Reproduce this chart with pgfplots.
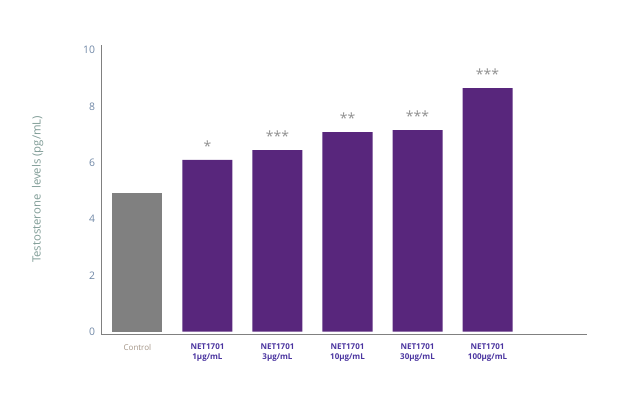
\documentclass[border=0pt]{standalone}
\usepackage{pgfplots}
\pgfplotsset{compat=1.18}
\usepackage{fontspec}
\setmainfont{Open Sans}
\definecolor{barpurple}{HTML}{58267C}
\definecolor{bargrey}{HTML}{808080}
\definecolor{ticktxt}{HTML}{6F87A6}
\definecolor{ylab}{HTML}{7D9A94}
\definecolor{ctrltxt}{HTML}{A39486}
\definecolor{nettxt}{HTML}{4B35A0}
\definecolor{startxt}{HTML}{909090}
\begin{document}
\begin{tikzpicture}
\path (0pt,0pt) rectangle (471.75pt,298.5pt);
\begin{axis}[
  at={(75.75pt,48pt)}, anchor=south west,
  scale only axis,
  width=364.5pt, height=216.75pt,
  xmin=-0.52, xmax=6.42,
  ymin=-0.08, ymax=10.18,
  axis lines*=left,
  axis line style={draw=bargrey, line width=0.6pt},
  ytick={0,2,4,6,8,10},
  xtick={0,1,2,3,4,5},
  xticklabels={
    {\textcolor{ctrltxt}{Control}},
    {\textbf{\textcolor{nettxt}{NET1701}}\\\textbf{\textcolor{nettxt}{1µg/mL}}},
    {\textbf{\textcolor{nettxt}{NET1701}}\\\textbf{\textcolor{nettxt}{3µg/mL}}},
    {\textbf{\textcolor{nettxt}{NET1701}}\\\textbf{\textcolor{nettxt}{10µg/mL}}},
    {\textbf{\textcolor{nettxt}{NET1701}}\\\textbf{\textcolor{nettxt}{30µg/mL}}},
    {\textbf{\textcolor{nettxt}{NET1701}}\\\textbf{\textcolor{nettxt}{100µg/mL}}}},
  major tick length=0pt,
  xticklabel style={font=\fontsize{6}{7}\selectfont, align=center, anchor=north, yshift=-4pt},
  yticklabel style={font=\fontsize{7.8}{8}\selectfont, text=ticktxt, xshift=-1pt},
  /pgf/number format/assume math mode=true,
  ylabel={Testosterone\ \ levels (pg/mL)},
  ylabel style={font=\fontsize{8.5}{9}\selectfont, text=ylab},
  ylabel shift=23pt,
  ybar, bar width=37.5pt,
  clip=false,
  nodes near coords style={font=\fontsize{10.5}{12}\selectfont, text=startxt, anchor=south, yshift=3pt},
]
\addplot[ybar, bar shift=0pt, fill=bargrey, draw=none] coordinates {(0,4.92)};
\addplot[ybar, bar shift=0pt, fill=barpurple, draw=none,
  nodes near coords, point meta=explicit symbolic]
  coordinates {(1,6.10) [*] (2,6.45) [***] (3,7.09) [**] (4,7.16) [***] (5,8.65) [***]};
\end{axis}
\end{tikzpicture}
\end{document}
